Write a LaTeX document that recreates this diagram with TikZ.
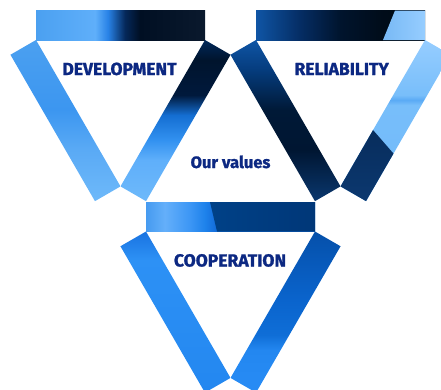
\documentclass[tikz,border=0pt]{standalone}
\usepackage{fontspec}
\setmainfont[BoldFeatures={FakeBold=1.3}]{Fira Sans}
\definecolor{txt}{RGB}{12,40,130}
% T1 top
\definecolor{aA}{RGB}{75,160,240}
\definecolor{aB}{RGB}{95,175,250}
\definecolor{aC}{RGB}{40,130,230}
\definecolor{aD}{RGB}{5,40,90}
\definecolor{aE}{RGB}{0,15,35}
\definecolor{aF}{RGB}{10,25,45}
% T1 left
\definecolor{lA}{RGB}{75,160,240}
\definecolor{lB}{RGB}{60,150,240}
\definecolor{lC}{RGB}{90,170,245}
\definecolor{lD}{RGB}{110,185,250}
% T1 right
\definecolor{rA}{RGB}{0,40,90}
\definecolor{rB}{RGB}{0,20,45}
\definecolor{rC}{RGB}{0,25,60}
\definecolor{rD}{RGB}{20,110,210}
\definecolor{rE}{RGB}{50,145,240}
\definecolor{rF}{RGB}{95,175,250}
\definecolor{rG}{RGB}{110,185,250}
% T2 top
\definecolor{bA}{RGB}{15,85,165}
\definecolor{bB}{RGB}{5,45,100}
\definecolor{bC}{RGB}{0,20,45}
\definecolor{bD}{RGB}{0,12,25}
\definecolor{bE}{RGB}{0,10,20}
\definecolor{bL}{RGB}{120,185,245}
\definecolor{bM}{RGB}{150,205,255}
% T2 left
\definecolor{gA}{RGB}{15,85,165}
\definecolor{gB}{RGB}{5,60,125}
\definecolor{gC}{RGB}{0,25,55}
\definecolor{gD}{RGB}{0,22,50}
\definecolor{gE}{RGB}{10,55,110}
% T2 right
\definecolor{hA}{RGB}{150,205,255}
\definecolor{hB}{RGB}{120,190,250}
\definecolor{hC}{RGB}{90,170,245}
\definecolor{hD}{RGB}{110,185,250}
\definecolor{hE}{RGB}{5,38,80}
\definecolor{hF}{RGB}{12,58,115}
% T3 top
\definecolor{cA}{RGB}{70,155,240}
\definecolor{cB}{RGB}{100,175,250}
\definecolor{cC}{RGB}{60,150,245}
\definecolor{cD}{RGB}{30,130,235}
\definecolor{cE}{RGB}{20,110,220}
\definecolor{cF}{RGB}{0,65,135}
\definecolor{cG}{RGB}{0,55,120}
% T3 left
\definecolor{kA}{RGB}{25,115,225}
\definecolor{kB}{RGB}{45,145,245}
\definecolor{kC}{RGB}{35,135,240}
% T3 right
\definecolor{mA}{RGB}{5,80,170}
\definecolor{mB}{RGB}{10,100,205}
\definecolor{mC}{RGB}{15,110,215}
\definecolor{mD}{RGB}{35,135,240}
\definecolor{mE}{RGB}{40,140,245}

\pgfdeclarehorizontalshading{sAtop}{100bp}{color(0bp)=(aA); color(25bp)=(aA); color(42.5bp)=(aB); color(46.3bp)=(aC); color(51.3bp)=(aD); color(55.8bp)=(aE); color(75bp)=(aF); color(100bp)=(aF)}
\pgfdeclareverticalshading{sAleft}{100bp}{color(0bp)=(lD); color(25bp)=(lD); color(40.9bp)=(lC); color(53.3bp)=(lB); color(75bp)=(lA); color(100bp)=(lA)}
\pgfdeclareverticalshading{sAright}{100bp}{color(0bp)=(rG); color(25bp)=(rG); color(37.8bp)=(rF); color(44bp)=(rE); color(51.7bp)=(rD); color(57.9bp)=(rC); color(68.8bp)=(rB); color(75bp)=(rA); color(100bp)=(rA)}
\pgfdeclarehorizontalshading{sBtop}{100bp}{color(0bp)=(bA); color(25bp)=(bA); color(38bp)=(bB); color(49.9bp)=(bC); color(62.6bp)=(bD); color(75bp)=(bE); color(100bp)=(bE)}
\pgfdeclareverticalshading{sBleft}{100bp}{color(0bp)=(gE); color(25bp)=(gE); color(40.9bp)=(gD); color(53.3bp)=(gC); color(65.7bp)=(gB); color(75bp)=(gA); color(100bp)=(gA)}
\pgfdeclareverticalshading{sBright}{100bp}{color(0bp)=(hD); color(25bp)=(hD); color(54.8bp)=(hB); color(56.4bp)=(hC); color(57.9bp)=(hB); color(75bp)=(hA); color(100bp)=(hA)}
\pgfdeclarehorizontalshading{sCtop}{100bp}{color(0bp)=(cA); color(25bp)=(cA); color(30.6bp)=(cB); color(38bp)=(cC); color(42.5bp)=(cD); color(45.4bp)=(cE); color(75bp)=(cE); color(100bp)=(cE)}
\pgfdeclareverticalshading{sCleft}{100bp}{color(0bp)=(kC); color(25bp)=(kC); color(66.2bp)=(kB); color(75bp)=(kA); color(100bp)=(kA)}
\pgfdeclareverticalshading{sCright}{100bp}{color(0bp)=(mE); color(25bp)=(mE); color(38.2bp)=(mD); color(42.9bp)=(mC); color(53.7bp)=(mB); color(75bp)=(mA); color(100bp)=(mA)}

\begin{document}
\begin{tikzpicture}[x=1pt,y=-1pt,
  lab/.style={font=\fontsize{17.5}{20}\selectfont\bfseries, text=txt, inner sep=0pt, anchor=base},
  labsmall/.style={lab, font=\fontsize{16.5}{20}\selectfont\bfseries}]
\useasboundingbox (0,0) rectangle (441,389);
\clip (0,0) rectangle (441,389);

% ---------- Triangle 1 : DEVELOPMENT ----------
\begin{scope}
  \shade[shading=sAtop] (36,10.5) rectangle (205,40);
  \shade[shading=sAleft] (36,40) -- (120.5,186.4) -- (94.95,201.15) -- (10.45,54.75) -- cycle;
  \shade[shading=sAright] (205,40) -- (120.5,186.4) -- (146.05,201.15) -- (230.55,54.75) -- cycle;
\end{scope}

% ---------- Triangle 2 : RELIABILITY ----------
\begin{scope}[shift={(220,0)}]
  \shade[shading=sBtop] (36,10.5) rectangle (205,40);
  \shade[left color=bL, right color=bM] (175,10.5) -- (205,10.5) -- (205,40) -- (163,40) -- cycle;
  \shade[shading=sBleft] (36,40) -- (120.5,186.4) -- (94.95,201.15) -- (10.45,54.75) -- cycle;
  \begin{scope}
    \clip (205,40) -- (120.5,186.4) -- (146.05,201.15) -- (230.55,54.75) -- cycle;
    \shade[shading=sBright] (205,40) -- (120.5,186.4) -- (146.05,201.15) -- (230.55,54.75) -- cycle;
    \shade[top color=hE, bottom color=hF] (113,84) -- (213,199) -- (213,215) -- (60,215) -- (60,84) -- cycle;
  \end{scope}
\end{scope}

% ---------- Triangle 3 : COOPERATION ----------
\begin{scope}[shift={(110,191.5)}]
  \shade[shading=sCtop] (36,10.5) rectangle (205,40);
  \shade[left color=cF, right color=cG] (100,10.5) -- (205,10.5) -- (205,40) -- (107,40) -- cycle;
  \shade[shading=sCleft] (36,40) -- (120.5,186.4) -- (94.95,201.15) -- (10.45,54.75) -- cycle;
  \shade[shading=sCright] (205,40) -- (120.5,186.4) -- (146.05,201.15) -- (230.55,54.75) -- cycle;
\end{scope}

% ---------- Labels ----------
\node[lab] (dev) at (119.5,75) {DEVELOPMENT};
\node[lab] (rel) at (341.7,75) {RELIABILITY};
\node[lab] (coop) at (230,266.5) {COOPERATION};
\node[labsmall] (vals) at (230.5,168) {Our values};
\end{tikzpicture}
\end{document}
